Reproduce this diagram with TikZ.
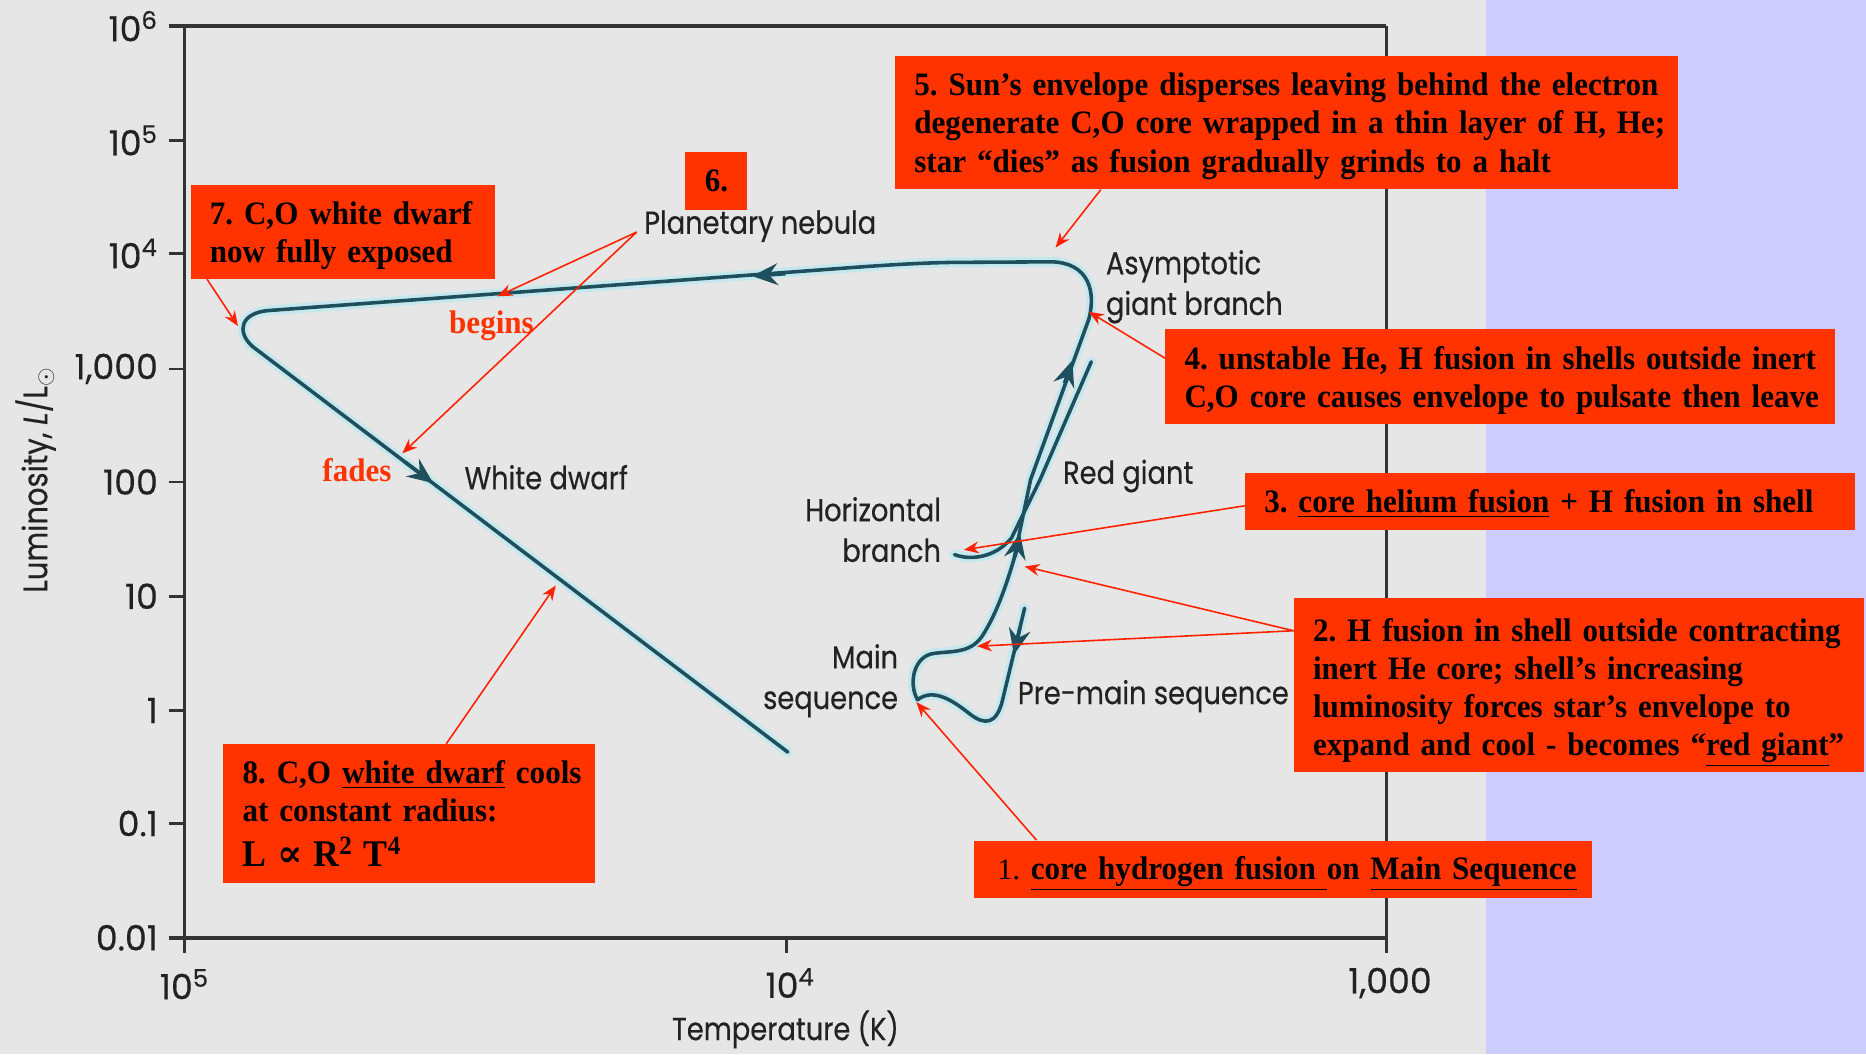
\documentclass[tikz,border=0pt]{standalone}
\usepackage{fontspec}
\setmainfont{Liberation Serif}
\newfontfamily\boxf[FakeStretch=0.95]{Liberation Serif}
\newfontfamily\plainf{Liberation Serif}
\newfontfamily\labf[FakeStretch=0.86,FakeBold=0.4]{Poppins}
\newfontfamily\tickf[FakeBold=0.4]{Poppins}
\newfontfamily\symf{DejaVu Serif}
\usetikzlibrary{arrows.meta,calc}
\newcommand{\boxline}[1]{\mbox{#1}}
\newcommand{\topstrut}[1]{\rule{0pt}{#1}}
\definecolor{bgray}{HTML}{E6E6E6}
\definecolor{lav}{HTML}{CCCCFF}
\definecolor{boxred}{HTML}{FF3300}
\definecolor{trackc}{HTML}{1F4F5C}
\definecolor{halo}{HTML}{C4E8EE}
\definecolor{arrred}{HTML}{FF2200}
\definecolor{axisc}{HTML}{333333}
\definecolor{labc}{HTML}{222222}
\tikzset{
  rbox/.style={fill=boxred, anchor=north west, inner ysep=0pt, inner xsep=9.6pt,
    align=left, font=\boxf\bfseries\fontsize{16.5}{19.2}\selectfont\frenchspacing, text=black},
  lab/.style={font=\labf\fontsize{16}{20.5}\selectfont, text=labc, inner sep=0pt},
  ticklab/.style={font=\tickf\fontsize{17.5}{20}\selectfont, text=labc, inner sep=0pt},
  axisline/.style={draw=axisc, line width=1.4pt},
  axisthick/.style={draw=axisc, line width=2.2pt},
  tickmark/.style={draw=axisc, line width=1.4pt},
  track/.style={draw=trackc, line width=1.8pt, line join=round, line cap=round},
  trackhalo/.style={draw=halo, line width=5pt, line join=round, line cap=round},
  tarr/.style={draw=trackc, line width=1.8pt, -{Stealth[length=13pt,width=11pt,inset=4.5pt]}},
  callout/.style={draw=arrred, line width=0.8pt, -{Stealth[length=7.5pt,width=6pt]}},
  redt/.style={font=\boxf\bfseries\fontsize{16.5}{19}\selectfont, text=boxred, inner sep=0pt}
}
\begin{document}
\begin{tikzpicture}[x=0.6pt,y=-0.6pt]
\useasboundingbox (0,0) rectangle (1568,886);
\fill[bgray] (0,0) rectangle (1249,886);
\fill[lav] (1249,0) rectangle (1568,886);

% axes
\draw[axisthick] (142,22) -- (1165,22);
\draw[axisthick] (142,788) -- (1165,788);
\draw[axisline] (155,22) -- (155,801);
\draw[axisline] (1165,22) -- (1165,801);
\foreach \yy in {118,213,310,405,501,597,692}
  \draw[tickmark] (142,\yy) -- (155,\yy);
\draw[tickmark] (661,788) -- (661,801);

% tick labels
\node[ticklab, anchor=east] (y6) at (133,22) {10\textsuperscript{6}};
\node[ticklab, anchor=east] (y5) at (133,118) {10\textsuperscript{5}};
\node[ticklab, anchor=east] (y4) at (133,213) {10\textsuperscript{4}};
\node[ticklab, anchor=east] (y3) at (133,310) {1,000};
\node[ticklab, anchor=east] (y2) at (133,405) {100};
\node[ticklab, anchor=east] (y1) at (133,501) {10};
\node[ticklab, anchor=east] (y0) at (133,597) {1};
\node[ticklab, anchor=east] (ym1) at (133,692) {0.1};
\node[ticklab, anchor=east] (ym2) at (133,788) {0.01};
\node[ticklab] (x5) at (155,827) {10\textsuperscript{5}};
\node[ticklab] (x4) at (664,826) {10\textsuperscript{4}};
\node[ticklab] (x3) at (1168,826) {1,000};
\node[lab, rotate=90, font=\labf\fontsize{17}{20}\selectfont] (ylab) at (30,403) {Luminosity, \textit{L}/L$_\odot$};
\node[lab] (xlab) at (660,865) {Temperature (K)};

% track
\begin{scope}
\foreach \sty in {trackhalo,track}{
\draw[\sty] (861,511) -- (842,590) .. controls (837,608) and (828,610) .. (815,600)
  .. controls (800,588) and (784,578) .. (771,588)
  .. controls (763,574) and (768,551) .. (785,549)
  .. controls (800,547) and (815,549) .. (825,535)
  .. controls (838,515) and (846,490) .. (852,470)
  -- (866,403) -- (915,268)
  .. controls (921,245) and (915,221) .. (884,220) -- (800,220.5)
  .. controls (770,221) and (740,223) .. (700,226) -- (225,261)
  .. controls (203,263) and (198,278) .. (212,291) -- (662,632);
\draw[\sty] (802,466) .. controls (815,471) and (836,469) .. (850,452)
  -- (874,403) -- (917,304);
}
\end{scope}
\draw[tarr] (660,230) -- (632,232);
\draw[tarr] (340,388) -- (364,406);
\draw[tarr] (894.5,322) -- (901,303);
\draw[tarr] (853,468) -- (857,448);
\draw[tarr] (857,528) -- (852,550);

% gray labels
\node[lab, anchor=west] (pn) at (541,190) {Planetary nebula};
\node[lab, anchor=west, align=left] (agb) at (929,241) {Asymptotic\\giant branch};
\node[lab, anchor=west] (rg) at (893,400) {Red giant};
\node[lab, anchor=east, align=right] (hb) at (791,445) {Horizontal\\branch};
\node[lab, anchor=west] (wd) at (390,401) {White dwarf};
\node[lab, anchor=east, align=right] (ms) at (755,572) {Main\\sequence};
\node[lab, anchor=west] (pms) at (855,585) {Pre-main sequence};

% red words
\node[redt] (begins) at (413,274) {begins};
\node[redt] (fades) at (300,395) {fades};

% boxes
\node[rbox, minimum width=394.8pt, minimum height=67pt, text width=375.6pt] (b5) at (752,47)
  {\boxline{\topstrut{14.9pt}5. Sun’s envelope disperses leaving behind the electron}\\\boxline{degenerate C,O core wrapped in a thin layer of H, He;}\\\boxline{star “dies” as fusion gradually grinds to a halt}};
\node[fill=boxred, minimum width=31.2pt, minimum height=29.4pt, inner sep=0pt,
  font=\boxf\bfseries\fontsize{16.5}{19.2}\selectfont] (b6) at (602,152) {6.};
\node[rbox, minimum width=153.6pt, minimum height=47.4pt, text width=134.4pt] (b7) at (160,155)
  {\boxline{\topstrut{14.9pt}7. C,O white dwarf}\\\boxline{now fully exposed}};
\node[rbox, minimum width=337.8pt, minimum height=48pt, text width=318.6pt] (b4) at (979,276)
  {\boxline{\topstrut{15.5pt}4. unstable He, H fusion in shells outside inert}\\\boxline{C,O core causes envelope to pulsate then leave}};
\node[rbox, minimum width=307.2pt, minimum height=28.8pt, text width=288pt] (b3) at (1046,397)
  {\boxline{\topstrut{13.7pt}3. \underline{core helium fusion} + H fusion in shell}};
\node[rbox, minimum width=287.4pt, minimum height=87.6pt, text width=268.2pt] (b2) at (1087,502)
  {\boxline{\topstrut{19.7pt}2. H fusion in shell outside contracting}\\\boxline{inert He core; shell’s increasing}\\\boxline{luminosity forces star’s envelope to}\\\boxline{expand and cool - becomes “\underline{red giant}”}};
\node[rbox, minimum width=311.4pt, minimum height=28.8pt, text width=299.4pt, inner xsep=6pt] (b1) at (818,706)
  {\boxline{\topstrut{16.1pt}\hspace*{6pt}{\plainf\mdseries\fontsize{15}{18}\selectfont 1.} \underline{core hydrogen fusion }on \underline{Main Sequence}}};
\node[rbox, minimum width=187.8pt, minimum height=70.2pt, text width=168pt] (b8) at (187,625)
  {\boxline{8. C,O \underline{white dwarf} cools}\\\boxline{at constant radius:}\\[3.4pt]\boxline{\fontsize{19}{22}\selectfont\bfseries L {\symf\bfseries ∝} R\textsuperscript{2} T\textsuperscript{4}}};

% callout targets
\coordinate (t1) at (770,590);
\coordinate (t2a) at (861,476);
\coordinate (t2b) at (821,543);
\coordinate (t3) at (810,462);
\coordinate (t4) at (915,262);
\coordinate (t5) at (887,208);
\coordinate (t6a) at (418,249);
\coordinate (t6b) at (338,381);
\coordinate (t7) at (200,274);
\coordinate (t8) at (467,492);
\coordinate (pnstart) at (535,195);

\draw[callout] ($(b1.north west)+(53,0)$) -- (t1);
\draw[callout] ($(b2.north west)+(0,28)$) -- (t2a);
\draw[callout] ($(b2.north west)+(0,28)$) -- (t2b);
\draw[callout] ($(b3.north west)+(0,28)$) -- (t3);
\draw[callout] ($(b4.north west)+(0,25)$) -- (t4);
\draw[callout] ($(b5.south west)+(173,0)$) -- (t5);
\draw[callout] (pnstart) -- (t6a);
\draw[callout] (pnstart) -- (t6b);
\draw[callout] ($(b7.south west)+(14,0)$) -- (t7);
\draw[callout] ($(b8.north west)+(188,0)$) -- (t8);
\end{tikzpicture}
\end{document}
